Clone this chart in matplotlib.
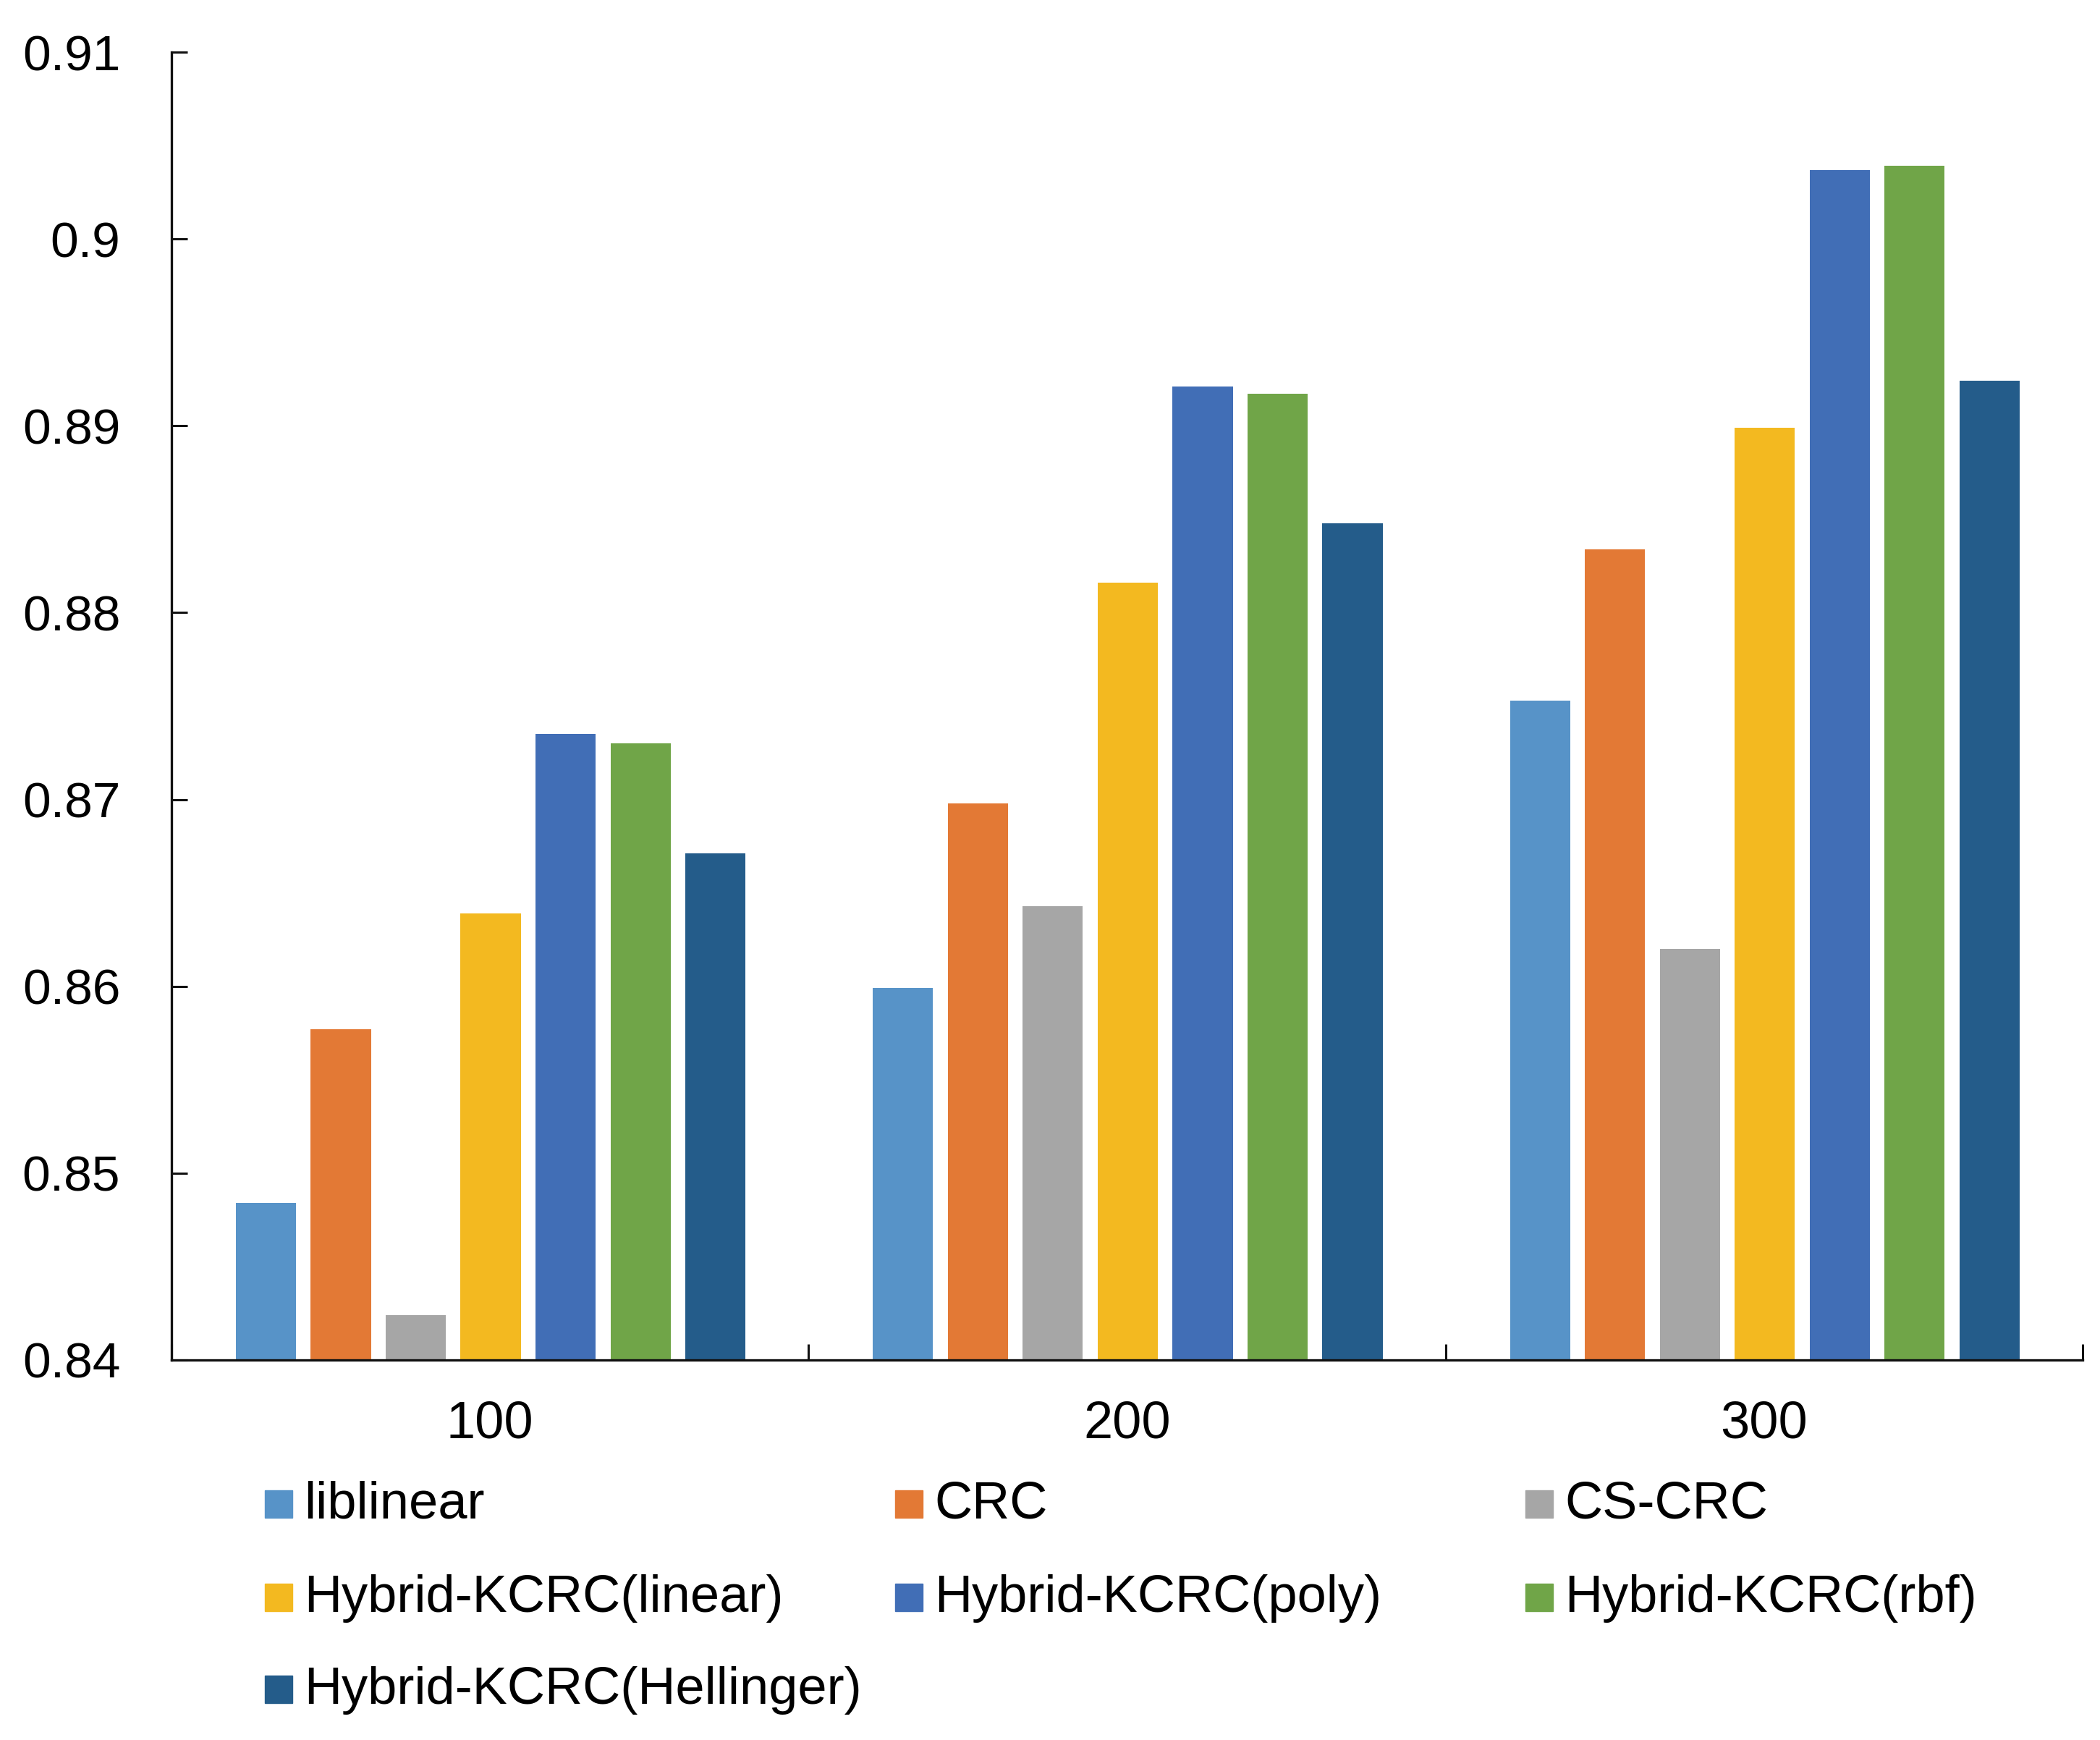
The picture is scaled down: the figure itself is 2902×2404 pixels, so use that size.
import matplotlib
matplotlib.use("Agg")
import matplotlib.pyplot as plt
from matplotlib.patches import Rectangle
import numpy as np

categories = ["100", "200", "300"]
series = ["liblinear", "CRC", "CS-CRC", "Hybrid-KCRC(linear)",
          "Hybrid-KCRC(poly)", "Hybrid-KCRC(rbf)", "Hybrid-KCRC(Hellinger)"]
liblinear = [0.8484, 0.8599, 0.8753]
crc = [0.8577, 0.8698, 0.8834]
cs_crc = [0.8424, 0.8643, 0.8620]
kcrc_linear = [0.8639, 0.8816, 0.8899]
kcrc_poly = [0.8735, 0.8921, 0.9037]
kcrc_rbf = [0.8730, 0.8917, 0.9039]
kcrc_hellinger = [0.8671, 0.8848, 0.8924]
values = [liblinear, crc, cs_crc, kcrc_linear, kcrc_poly, kcrc_rbf, kcrc_hellinger]
yticks = [0.84, 0.85, 0.86, 0.87, 0.88, 0.89, 0.90, 0.91]
ytick_labels = ["0.84", "0.85", "0.86", "0.87", "0.88", "0.89", "0.9", "0.91"]

colors = ["#5793C8", "#E37935", "#A6A6A6", "#F3B920", "#416EB6", "#70A548", "#245C8A"]

plt.rcParams['font.family'] = ['Liberation Sans', 'DejaVu Sans']
FS = 52

W, H = 2902, 2404
fig = plt.figure(figsize=(W / 100, H / 100), dpi=100)
ax = fig.add_axes([237 / W, 1 - 1879 / H, (2878 - 237) / W, (1879 - 72) / H])

x = np.arange(len(categories))
bw = 0.0945
step = 0.1176
for i, (name, vals, c) in enumerate(zip(series, values, colors)):
    ax.bar(x + (i - 3) * step + 0.001, vals, width=bw, color=c, label=name, zorder=2)

ax.set_ylim(0.84, 0.91)
ax.set_xlim(-0.5, len(categories) - 0.5)

for s in ["top", "right"]:
    ax.spines[s].set_visible(False)
for s in ["left", "bottom"]:
    ax.spines[s].set_linewidth(2.4)
    ax.spines[s].set_color("#111111")
    ax.spines[s].set_zorder(3)

ax.set_yticks(yticks)
ax.set_yticklabels(ytick_labels)
ax.tick_params(axis="y", direction="in", length=16, width=2.2, pad=51,
               labelsize=50, color="#111111")

ax.set_xticks(np.arange(len(categories) + 1) - 0.5)
ax.set_xticklabels([""] * (len(categories) + 1))
ax.tick_params(axis="x", which="major", direction="in", length=16, width=2.2,
               color="#111111")
ax.set_xticks(x, minor=True)
ax.set_xticklabels(categories, minor=True)
ax.tick_params(axis="x", which="minor", length=0, pad=40, labelsize=FS)

# legend (3 columns, Excel style)
col_x = [366, 1237, 2108]
row_base = [2098, 2227, 2354]
msz = 38
for i, (name, c) in enumerate(zip(series, colors)):
    r, cidx = divmod(i, 3)
    x0 = col_x[cidx]
    yb = row_base[r]
    fig.patches.append(Rectangle((x0 / W, 1 - (yb - 1) / H), msz / W, msz / H,
                                 transform=fig.transFigure, color=c))
    fig.text((x0 + 54) / W, 1 - yb / H, name, fontsize=FS, va="baseline", ha="left")

fig.savefig("out.png", dpi=100)
